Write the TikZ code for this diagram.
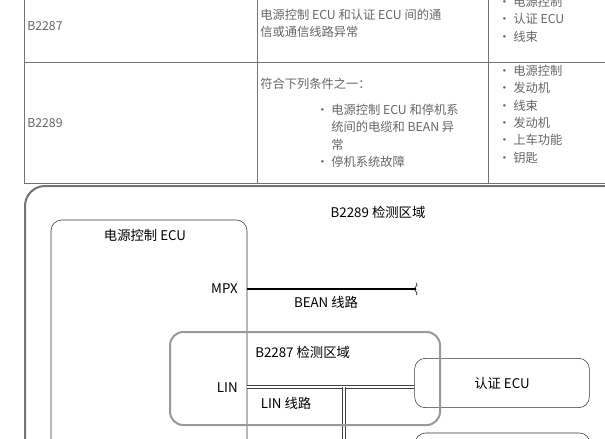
\documentclass[tikz,border=0pt]{standalone}
\usepackage{fontspec}
\setmainfont{Noto Sans CJK SC}
\usetikzlibrary{positioning,decorations.pathmorphing}
\tikzset{
  cell/.style={font=\fontsize{9.2}{13}\selectfont, text=black!60, inner sep=0pt},
  dia/.style={font=\fontsize{10}{12}\selectfont, inner sep=0pt},
  ecubox/.style={draw=black!80, rounded corners=8pt, thin},
}
\newcommand{\bul}{\textbullet\ }
\begin{document}
\begin{tikzpicture}[x=0.75pt,y=-0.75pt, >=stealth]
  \useasboundingbox (0,0) rectangle (605,438);
  % Table
  \draw[black!55, semithick] (24,-2) -- (24,183) -- (610,183);
  \draw[black!55, semithick] (24,62) -- (610,62);
  \draw[black!55, semithick] (257,-2) -- (257,183);
  \draw[black!55, semithick] (488,-2) -- (488,183);
  \node[cell, anchor=west] (c1) at (27,26) {B2287};
  \node[cell, anchor=north west, align=left] (d1) at (260,9) {电源控制 ECU 和认证 ECU 间的通\\信或通信线路异常};
  \node[cell, anchor=north west, align=left] (r1) at (498,-4) {\bul 电源控制\\\bul 认证 ECU\\\bul 线束};
  \node[cell, anchor=west] (c2) at (27,123) {B2289};
  \node[cell, anchor=west] (d2) at (260,84) {符合下列条件之一：};
  \node[cell, anchor=north west, align=left] (d3) at (316,104) {\bul 电源控制 ECU 和停机系\\\phantom{\bul}统间的电缆和 BEAN 异\\\phantom{\bul}常\\\bul 停机系统故障};
  \node[cell, anchor=north west, align=left] (r2) at (498,65) {\bul 电源控制\\\bul 发动机\\\bul 线束\\\bul 发动机\\\bul 上车功能\\\bul 钥匙};
  % Diagram
  \draw[black!55, line width=1.5pt, rounded corners=15pt] (25,450) -- (25,186) -- (615,186);
  \node[dia] (zone89) at (378,212) {B2289 检测区域};
  \draw[ecubox] (51,450) -- (51,220) -- (247,220) -- (247,450);
  \node[dia] (pecu) at (145,235) {电源控制 ECU};
  \node[dia, anchor=east] (mpx) at (238,289) {MPX};
  \coordinate (mpxpin) at (247,289);
  \coordinate (beanend) at (416,289);
  \draw[line width=1.8pt] (mpxpin) -- (beanend);
  \draw[thin] (beanend) ++(0,-6) .. controls +(4,3) and +(-4,-2) .. ++(0,6) .. controls +(-4,2) and +(4,-3) .. ++(0,6);
  \node[dia] (bean) at (326,302) {BEAN 线路};
  \node[dia, anchor=east] (lin) at (238,388) {LIN};
  \node[ecubox, draw, minimum width=131pt, minimum height=37pt] (auth) at (502,383) {};
  \node[dia] at (auth) {认证 ECU};
  \draw[ecubox] (415,450) -- (415,433) -- (590,433) -- (590,450);
  \coordinate (linpin) at (247,387);
  \coordinate (tap) at (344,387);
  \coordinate (down) at (344,445);
  \draw[double=white, double distance=1.6pt, black!75, thin] (linpin) -- (linpin -| auth.west);
  \draw[double=white, double distance=1.6pt, black!75, thin] (tap) -- (down);
  \node[dia] (linl) at (286,403) {LIN 线路};
  \draw[black!40, line width=1.5pt, rounded corners=10pt] (170,332) rectangle (440,425);
  \node[dia, anchor=west] (zone87) at (255,352) {B2287 检测区域};
\end{tikzpicture}
\end{document}
